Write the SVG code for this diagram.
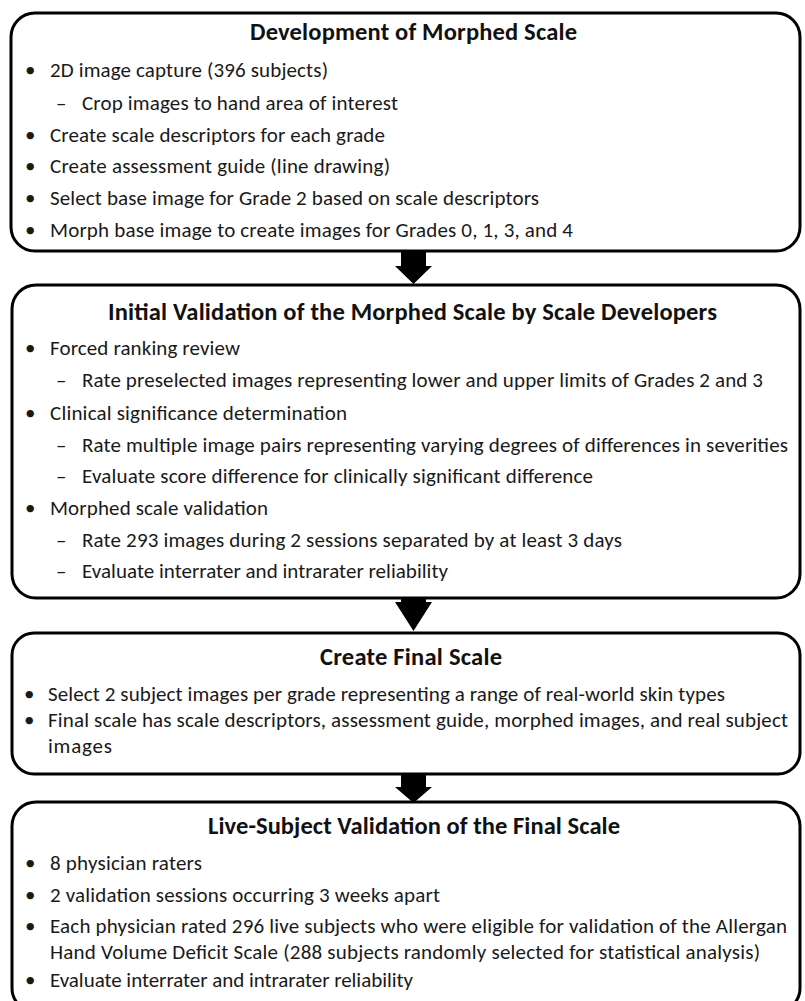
<svg xmlns="http://www.w3.org/2000/svg" width="805" height="1001" viewBox="0 0 805 1001">
<style>
.box{fill:#fff;stroke:#000;stroke-width:3}
.t{font-family:Carlito,Lato,"Liberation Sans",sans-serif;font-size:21px;fill:#1a1a1a}
.h{font-family:Carlito,Lato,"Liberation Sans",sans-serif;font-size:24.5px;font-weight:bold;fill:#111}
.arr{fill:#000}
</style>
<rect width="805" height="1001" fill="#fff"/>
<g id="connectors">
<polygon class="arr" points="401,251 426,251 426,266 432,266 413.5,284 395,266 401,266"/>
<polygon class="arr" points="401,598 426,598 426,602 432,602 413.5,631 395,602 401,602"/>
<polygon class="arr" points="401,774 426,774 426,787 432,787 413.5,803 395,787 401,787"/>
</g>
<g id="node1">
<rect class="box" x="11" y="13" width="789" height="238" rx="24"/>
<text class="h" x="250" y="40" textLength="327">Development of Morphed Scale</text>
<text class="t" x="25" y="77">•</text><text class="t" x="50" y="77" textLength="278">2D image capture (396 subjects)</text>
<text class="t" x="56" y="110">–</text><text class="t" x="82" y="110" textLength="316">Crop images to hand area of interest</text>
<text class="t" x="25" y="142">•</text><text class="t" x="50" y="142" textLength="335">Create scale descriptors for each grade</text>
<text class="t" x="25" y="173">•</text><text class="t" x="50" y="173" textLength="340">Create assessment guide (line drawing)</text>
<text class="t" x="25" y="205">•</text><text class="t" x="50" y="205" textLength="489">Select base image for Grade 2 based on scale descriptors</text>
<text class="t" x="25" y="237">•</text><text class="t" x="50" y="237" textLength="523">Morph base image to create images for Grades 0, 1, 3, and 4</text>
</g>
<g id="node2">
<rect class="box" x="12" y="285" width="788" height="313" rx="24"/>
<text class="h" x="108" y="320" textLength="609">Initial Validation of the Morphed Scale by Scale Developers</text>
<text class="t" x="25" y="355">•</text><text class="t" x="50" y="355" textLength="190">Forced ranking review</text>
<text class="t" x="56" y="387">–</text><text class="t" x="82" y="387" textLength="681">Rate preselected images representing lower and upper limits of Grades 2 and 3</text>
<text class="t" x="25" y="420">•</text><text class="t" x="50" y="420" textLength="297">Clinical significance determination</text>
<text class="t" x="56" y="452">–</text><text class="t" x="82" y="452" textLength="706">Rate multiple image pairs representing varying degrees of differences in severities</text>
<text class="t" x="56" y="483">–</text><text class="t" x="82" y="483" textLength="511">Evaluate score difference for clinically significant difference</text>
<text class="t" x="25" y="515">•</text><text class="t" x="50" y="515" textLength="218">Morphed scale validation</text>
<text class="t" x="56" y="547">–</text><text class="t" x="82" y="547" textLength="540">Rate 293 images during 2 sessions separated by at least 3 days</text>
<text class="t" x="56" y="578">–</text><text class="t" x="82" y="578" textLength="366">Evaluate interrater and intrarater reliability</text>
</g>
<g id="node3">
<rect class="box" x="12" y="633" width="788" height="141" rx="22"/>
<text class="h" x="320" y="665" textLength="182">Create Final Scale</text>
<text class="t" x="24" y="701">•</text><text class="t" x="48" y="701" textLength="677">Select 2 subject images per grade representing a range of real-world skin types</text>
<text class="t" x="24" y="727">•</text>
<text class="t"><tspan x="48" y="727" textLength="740">Final scale has scale descriptors, assessment guide, morphed images, and real subject</tspan><tspan x="48" y="753" textLength="64">images</tspan></text>
</g>
<g id="node4">
<rect class="box" x="12" y="802" width="788" height="210" rx="24"/>
<text class="h" x="208" y="834" textLength="412">Live-Subject Validation of the Final Scale</text>
<text class="t" x="25" y="870">•</text><text class="t" x="50" y="870" textLength="152">8 physician raters</text>
<text class="t" x="25" y="902">•</text><text class="t" x="50" y="902" textLength="390">2 validation sessions occurring 3 weeks apart</text>
<text class="t" x="25" y="933">•</text>
<text class="t"><tspan x="50" y="933" textLength="737">Each physician rated 296 live subjects who were eligible for validation of the Allergan</tspan><tspan x="50" y="959" textLength="710">Hand Volume Deficit Scale (288 subjects randomly selected for statistical analysis)</tspan></text>
<text class="t" x="25" y="987">•</text><text class="t" x="50" y="987" textLength="363">Evaluate interrater and intrarater reliability</text>
</g>
</svg>
